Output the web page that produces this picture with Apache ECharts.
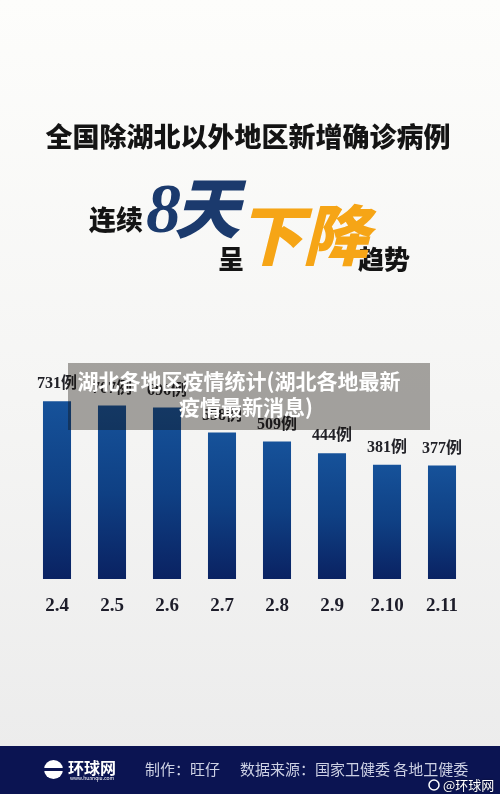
<!DOCTYPE html>
<html><head><meta charset="utf-8">
<script src="https://cdn.jsdelivr.net/npm/echarts@6/dist/echarts.min.js"></script>
<style>html,body{margin:0;padding:0;}#c{width:500px;height:794px;}</style>
</head><body><div id="c"></div>
<script>
var categories = ['2.4','2.5','2.6','2.7','2.8','2.9','2.10','2.11'];
var cases = [731, 707, 696, 558, 509, 444, 381, 377];
var valueSuffix = '例';
var Y_MIN = -250, Y_MAX = 1000;

var CJK = '"Noto Sans CJK SC", sans-serif';
var SERIF = '"Liberation Serif", "DejaVu Serif", "Noto Sans CJK SC", serif';

var barGrad = new echarts.graphic.LinearGradient(0, 0, 0, 1, [
  {offset: 0, color: '#16529a'},
  {offset: 0.5, color: '#0f4084'},
  {offset: 1, color: '#0a2262'}
]);

var chart = echarts.init(document.getElementById('c'), null, {renderer: 'canvas'});
chart.setOption({
  animation: false,
  grid: {left: 29.5, right: 30.5, top: 352.5, bottom: 215},
  xAxis: {
    type: 'category', data: categories,
    axisLine: {show: false}, axisTick: {show: false},
    axisLabel: {margin: 18, fontSize: 19, fontWeight: 'bold', fontFamily: SERIF, color: '#1d1d2a'}
  },
  yAxis: {type: 'value', min: Y_MIN, max: Y_MAX, show: false, splitLine: {show: false}},
  series: [{
    type: 'custom',
    data: cases.map(function (v, i) { return [i, v]; }),
    renderItem: function (params, api) {
      var top = api.coord([api.value(0), api.value(1)]);
      var base = api.coord([api.value(0), Y_MIN]);
      var w = api.size([1, 0])[0] * 0.51;
      return {
        type: 'group',
        children: [{
          type: 'rect',
          shape: {x: top[0] - w / 2, y: top[1], width: w, height: base[1] - top[1]},
          style: {fill: barGrad}
        }, {
          type: 'text',
          style: {
            text: api.value(1) + valueSuffix,
            x: top[0], y: top[1] - 17,
            align: 'center', verticalAlign: 'middle',
            font: 'bold 16px ' + SERIF,
            fill: '#222228'
          }
        }]
      };
    }
  }],
  graphic: [
    {type: 'rect', z: -100, shape: {x: 0, y: 0, width: 500, height: 794},
     style: {fill: new echarts.graphic.LinearGradient(0, 0, 0, 1, [
       {offset: 0, color: '#fdfdfb'}, {offset: 0.5, color: '#f5f5f4'}, {offset: 1, color: '#ebebeb'}])}},
    {type: 'text', z: 50, x: 248, y: 137, style: {text: '全国除湖北以外地区新增确诊病例', align: 'center', verticalAlign: 'middle',
      font: '900 27px ' + CJK, fill: '#141414'}},
    {type: 'text', z: 50, x: 116, y: 220, style: {text: '连续', align: 'center', verticalAlign: 'middle',
      font: '900 27px ' + CJK, fill: '#141414'}},
    {type: 'text', z: 50, x: 146, y: 214, style: {text: '8', align: 'left', verticalAlign: 'middle',
      font: 'italic bold 70px ' + SERIF, fill: '#1b3a6d'}},
    {type: 'text', z: 50, x: 207, y: 208, style: {text: '天', align: 'center', verticalAlign: 'middle',
      font: 'italic 900 66px ' + CJK, fill: '#1b3a6d'}},
    {type: 'text', z: 50, x: 231, y: 259, style: {text: '呈', align: 'center', verticalAlign: 'middle',
      font: '900 26px ' + CJK, fill: '#141414'}},
    {type: 'text', z: 51, x: 303, y: 235, style: {text: '下降', align: 'center', verticalAlign: 'middle',
      font: 'italic 900 66px ' + CJK, fill: '#f6a516'}},
    {type: 'text', z: 50, x: 384, y: 259, style: {text: '趋势', align: 'center', verticalAlign: 'middle',
      font: '900 26px ' + CJK, fill: '#141414'}},
    {type: 'rect', z: 100, shape: {x: 68, y: 363, width: 362, height: 67},
     style: {fill: 'rgba(18,10,2,0.36)'}},
    {type: 'text', z: 101, x: 239, y: 381, style: {text: '湖北各地区疫情统计(湖北各地最新', align: 'center', verticalAlign: 'middle',
      font: 'bold 21px ' + CJK, fill: '#ffffff'}},
    {type: 'text', z: 101, x: 246, y: 407, style: {text: '疫情最新消息)', align: 'center', verticalAlign: 'middle',
      font: 'bold 21px ' + CJK, fill: '#ffffff'}},
    {type: 'rect', z: 100, shape: {x: 0, y: 746, width: 500, height: 48}, style: {fill: '#0b1452'}},
    {type: 'circle', z: 101, shape: {cx: 53.5, cy: 769.5, r: 9.5}, style: {fill: '#ffffff'}},
    {type: 'rect', z: 102, shape: {x: 44, y: 768, width: 19, height: 3}, style: {fill: '#0b1452'}},
    {type: 'text', z: 101, x: 68, y: 768, style: {text: '环球网', align: 'left', verticalAlign: 'middle',
      font: 'bold 16px ' + CJK, fill: '#ffffff'}},
    {type: 'text', z: 101, x: 70, y: 778.5, style: {text: 'www.huanqiu.com', align: 'left', verticalAlign: 'middle',
      font: '5px ' + CJK, fill: '#ffffff'}},
    {type: 'text', z: 101, x: 145, y: 769, style: {text: '制作：旺仔', align: 'left', verticalAlign: 'middle',
      font: '15px ' + CJK, fill: '#cdd1e4'}},
    {type: 'text', z: 101, x: 240, y: 769, style: {text: '数据来源：国家卫健委 各地卫健委', align: 'left', verticalAlign: 'middle',
      font: '15px ' + CJK, fill: '#cdd1e4'}},
    {type: 'circle', z: 101, shape: {cx: 434, cy: 785, r: 5}, style: {fill: 'none', stroke: '#ffffff', lineWidth: 1.5}},
    {type: 'text', z: 101, x: 443, y: 785, style: {text: '@环球网', align: 'left', verticalAlign: 'middle',
      font: '13px ' + CJK, fill: '#ffffff', textShadowColor: 'rgba(0,0,0,0.6)', textShadowBlur: 2}}
  ]
});
</script>
</body></html>
